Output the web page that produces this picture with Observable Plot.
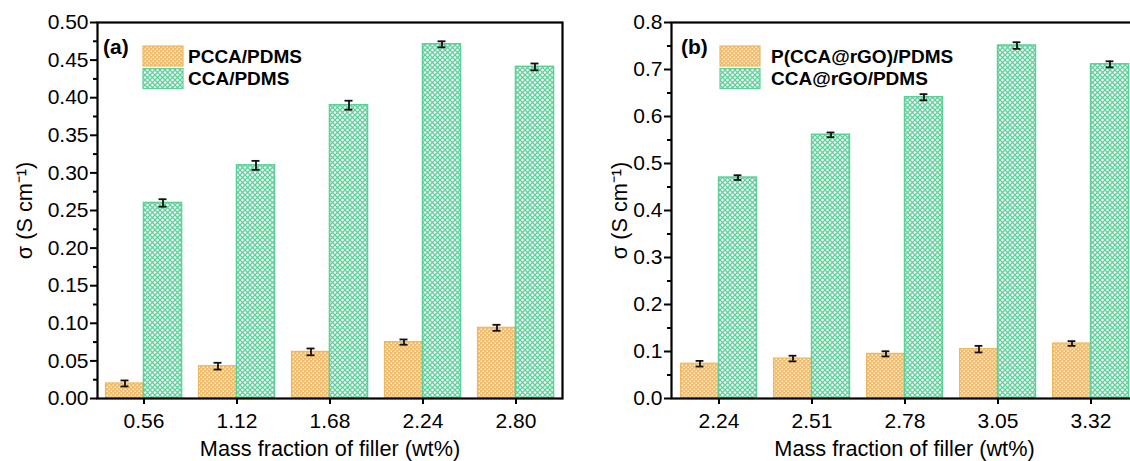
<!DOCTYPE html>
<html>
<head>
<meta charset="utf-8">
<script src="https://cdn.jsdelivr.net/npm/d3@7"></script>
<script src="https://cdn.jsdelivr.net/npm/@observablehq/plot@0.6"></script>
<style>
  html, body { margin: 0; padding: 0; background: #fff; }
  #wrap { position: relative; width: 1130px; height: 461px; overflow: hidden; }
  #wrap > svg.plot { position: absolute; top: 0; }
</style>
</head>
<body>
<svg width="0" height="0" style="position:absolute">
  <defs>
    <pattern id="pOrange" width="4" height="4" patternUnits="userSpaceOnUse">
      <rect width="4" height="4" fill="#F0BC6C"/>
      <rect x="0.6" y="0.6" width="1.3" height="1.3" fill="#fff"/>
      <rect x="2.6" y="2.6" width="1.3" height="1.3" fill="#fff"/>
    </pattern>
    <pattern id="pGreen" width="5" height="5" patternUnits="userSpaceOnUse">
      <rect width="5" height="5" fill="#fff"/>
      <path d="M0,0L5,5M5,0L0,5" stroke="#5ED09A" stroke-width="1.3"/>
    </pattern>
  </defs>
</svg>
<div id="wrap"></div>
<script>
// ---- Data: panel (a)
const catsA = ["0.56", "1.12", "1.68", "2.24", "2.80"];
const seriesA = ["PCCA/PDMS", "CCA/PDMS"];
const pccaVals = [0.020, 0.043, 0.062, 0.075, 0.094];
const pccaErr  = [0.004, 0.0045, 0.0045, 0.0035, 0.004];
const ccaVals  = [0.260, 0.310, 0.390, 0.471, 0.441];
const ccaErr   = [0.005, 0.006, 0.006, 0.004, 0.0045];
const yTicksA  = [0, 0.05, 0.10, 0.15, 0.20, 0.25, 0.30, 0.35, 0.40, 0.45, 0.50];
const yMinorA  = [0.025, 0.075, 0.125, 0.175, 0.225, 0.275, 0.325, 0.375, 0.425, 0.475];

// ---- Data: panel (b)
const catsB = ["2.24", "2.51", "2.78", "3.05", "3.32"];
const seriesB = ["P(CCA@rGO)/PDMS", "CCA@rGO/PDMS"];
const pccargoVals = [0.074, 0.085, 0.095, 0.105, 0.117];
const pccargoErr  = [0.006, 0.006, 0.0055, 0.007, 0.005];
const ccargoVals  = [0.470, 0.561, 0.641, 0.751, 0.711];
const ccargoErr   = [0.005, 0.005, 0.0065, 0.007, 0.0065];
const yTicksB  = [0, 0.1, 0.2, 0.3, 0.4, 0.5, 0.6, 0.7, 0.8];
const yMinorB  = [0.05, 0.15, 0.25, 0.35, 0.45, 0.55, 0.65, 0.75];

const xLabel = "Mass fraction of filler (wt%)";
const yLabel = "σ (S cm⁻¹)";

const FONT = "'Liberation Sans', Arial, Helvetica, sans-serif";
const ORANGE = "#EDB862";
const GREEN = "#5ECF98";

function panel(o) {
  const rows1 = o.cats.map((c, i) => ({cat: c, v: o.v1[i], e: o.e1[i]}));
  const rows2 = o.cats.map((c, i) => ({cat: c, v: o.v2[i], e: o.e2[i]}));
  const step = (o.width - o.marginLeft - o.marginRight) / o.cats.length;
  const half = step / 2;
  const barW = 38, gap = half - barW, off = barW / 2, cap = 4;
  const errMarks = (rows, sign) => [
    Plot.ruleX(rows, {x: "cat", y1: d => d.v - d.e, y2: d => d.v + d.e, dx: sign * off, stroke: "#111", strokeWidth: 1.8}),
    Plot.tickY(rows, {x: "cat", y: d => d.v + d.e, stroke: "#111", strokeWidth: 1.8,
      insetLeft: half + sign * off - cap, insetRight: half - sign * off - cap}),
    Plot.tickY(rows, {x: "cat", y: d => d.v - d.e, stroke: "#111", strokeWidth: 1.8,
      insetLeft: half + sign * off - cap, insetRight: half - sign * off - cap})
  ];
  const svg = Plot.plot({
    width: o.width, height: 461,
    marginLeft: o.marginLeft, marginRight: o.marginRight, marginTop: 22, marginBottom: 63,
    x: {type: "band", domain: o.cats, padding: 0},
    y: {domain: [0, o.ymax]},
    style: {fontFamily: FONT, fontSize: "21px", color: "#000", background: "transparent", overflow: "visible"},
    marks: [
      Plot.barY(rows1, {x: "cat", y: "v", fill: "url(#pOrange)", stroke: ORANGE, strokeWidth: 1.2,
        insetLeft: gap, insetRight: half}),
      Plot.barY(rows2, {x: "cat", y: "v", fill: "url(#pGreen)", stroke: GREEN, strokeWidth: 1.6,
        insetLeft: half, insetRight: gap}),
      ...errMarks(rows1, -1),
      ...errMarks(rows2, 1),
      Plot.frame({stroke: "#000", strokeWidth: 2.2}),
      Plot.axisY({ticks: o.yTicks, tickFormat: d3.format(o.fmt), tickSize: 7, tickPadding: 2,
        strokeWidth: 2, fontSize: 21, label: null}),
      Plot.axisY({ticks: o.yMinor, tickFormat: () => "", tickSize: 4, strokeWidth: 2, label: null}),
      Plot.axisX({tickSize: 6, tickPadding: 9, strokeWidth: 2, fontSize: 21, label: null}),
      Plot.text([xLabel], {frameAnchor: "bottom", textAnchor: "middle", lineAnchor: "middle", dy: 51, fontSize: 21.7}),
      Plot.text([yLabel], {frameAnchor: "left", textAnchor: "middle", lineAnchor: "middle", rotate: -90, dx: o.yLabelDx, fontSize: 21.7})
    ]
  });
  svg.classList.add("plot");
  svg.style.left = o.left + "px";
  // legend & panel letter
  const g = d3.select(svg).append("g").attr("font-family", FONT).attr("text-anchor", "start");
  g.append("text").attr("x", o.letterX).attr("y", 47).attr("dy", "0.35em")
    .attr("font-size", 21).attr("font-weight", "bold").text(o.letter);
  const items = [{name: o.series[0], fill: "url(#pOrange)", stroke: ORANGE},
                 {name: o.series[1], fill: "url(#pGreen)", stroke: GREEN}];
  items.forEach((it, i) => {
    const y0 = 46 + i * 22.5;
    g.append("rect").attr("x", o.swX).attr("y", y0).attr("width", 40).attr("height", 20)
      .attr("fill", it.fill).attr("stroke", it.stroke).attr("stroke-width", 1.2);
    g.append("text").attr("x", o.labX).attr("y", y0 + 10).attr("dy", "0.35em")
      .attr("font-size", 19).attr("font-weight", "bold").text(it.name);
  });
  return svg;
}

const wrap = document.getElementById("wrap");
wrap.appendChild(panel({
  cats: catsA, series: seriesA, v1: pccaVals, e1: pccaErr, v2: ccaVals, e2: ccaErr,
  ymax: 0.5, yTicks: yTicksA, yMinor: yMinorA, fmt: ".2f",
  width: 565, marginLeft: 97, marginRight: 3, left: 0, yLabelDx: -72,
  letter: "(a)", letterX: 103, swX: 143, labX: 188
}));
wrap.appendChild(panel({
  cats: catsB, series: seriesB, v1: pccargoVals, e1: pccargoErr, v2: ccargoVals, e2: ccargoErr,
  ymax: 0.8, yTicks: yTicksB, yMinor: yMinorB, fmt: ".1f",
  width: 575, marginLeft: 106, marginRight: 3, left: 565, yLabelDx: -51,
  letter: "(b)", letterX: 116, swX: 155, labX: 206
}));
</script>
</body>
</html>
